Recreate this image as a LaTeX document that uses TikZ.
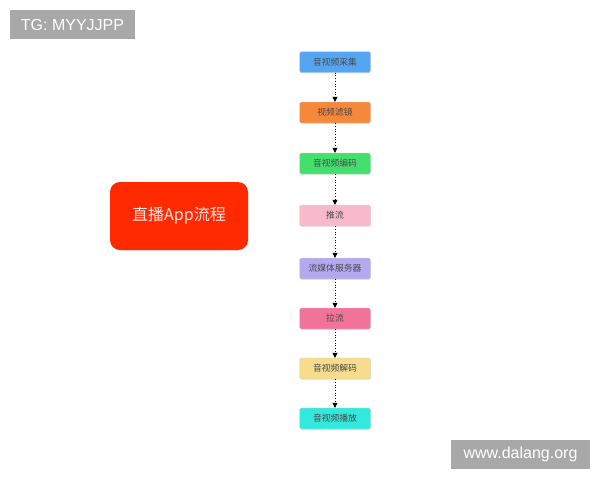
\documentclass[tikz,border=0pt]{standalone}
\usepackage{fontspec}
\setmainfont{Liberation Sans}
\newfontfamily\cjk{Noto Sans CJK SC}
\usetikzlibrary{arrows.meta,shadows}
\definecolor{cA}{HTML}{55A6F2}
\definecolor{cB}{HTML}{F5883A}
\definecolor{cC}{HTML}{44E06E}
\definecolor{cD}{HTML}{F8BACB}
\definecolor{cE}{HTML}{B4A9EE}
\definecolor{cF}{HTML}{F27399}
\definecolor{cG}{HTML}{F6DC8C}
\definecolor{cH}{HTML}{33E8DC}
\definecolor{redbox}{HTML}{FF2A00}
\definecolor{tagbg}{HTML}{A8A8A8}
\definecolor{txt}{HTML}{4A4A4A}
\tikzset{
  stepbox/.style={rectangle, rounded corners=1.5pt, minimum width=71pt, minimum height=21pt, inner sep=0pt,
    draw=black!15, line width=0.4pt, font=\cjk\fontsize{8.8}{10}\selectfont, text=txt,
    drop shadow={opacity=0.18, shadow xshift=0.6pt, shadow yshift=-0.8pt}},
  flow/.style={dotted, line width=0.7pt, -{Triangle[width=5pt,length=5pt]}},
  tag/.style={rectangle, fill=tagbg, inner sep=0pt, text=white, font=\fontsize{16}{18}\selectfont},
  mainbox/.style={rectangle, rounded corners=10pt, fill=redbox, minimum width=138pt, minimum height=68pt,
    inner sep=0pt, text=white!90!red, font=\cjk\fontsize{16}{18}\selectfont,
    drop shadow={opacity=0.15, shadow xshift=0.5pt, shadow yshift=-0.8pt}}
}
\begin{document}
\begin{tikzpicture}[x=1pt,y=-1pt]
\useasboundingbox[fill=white] (0,0) rectangle (600,480);
\node[tag, minimum width=125pt, minimum height=29pt] (tg) at (72.5,24.5) {TG: MYYJJPP};
\node[tag, minimum width=139pt, minimum height=29pt] (web) at (520.5,454.5) {www.dalang.org};
\node[mainbox] (main) at (179,216) {直播App流程};
\node[stepbox, fill=cA] (s1) at (335,62) {音视频采集};
\node[stepbox, fill=cB] (s2) at (335,112.5) {视频滤镜};
\node[stepbox, fill=cC] (s3) at (335,163.5) {音视频编码};
\node[stepbox, fill=cD] (s4) at (335,215.5) {推流};
\node[stepbox, fill=cE] (s5) at (335,268.5) {流媒体服务器};
\node[stepbox, fill=cF] (s6) at (335,318.5) {拉流};
\node[stepbox, fill=cG] (s7) at (335,368.5) {音视频解码};
\node[stepbox, fill=cH] (s8) at (335,418.5) {音视频播放};
\foreach \a/\b in {s1/s2,s2/s3,s3/s4,s4/s5,s5/s6,s6/s7,s7/s8}
  \draw[flow] (\a.south) -- (\b.north);
\end{tikzpicture}
\end{document}
